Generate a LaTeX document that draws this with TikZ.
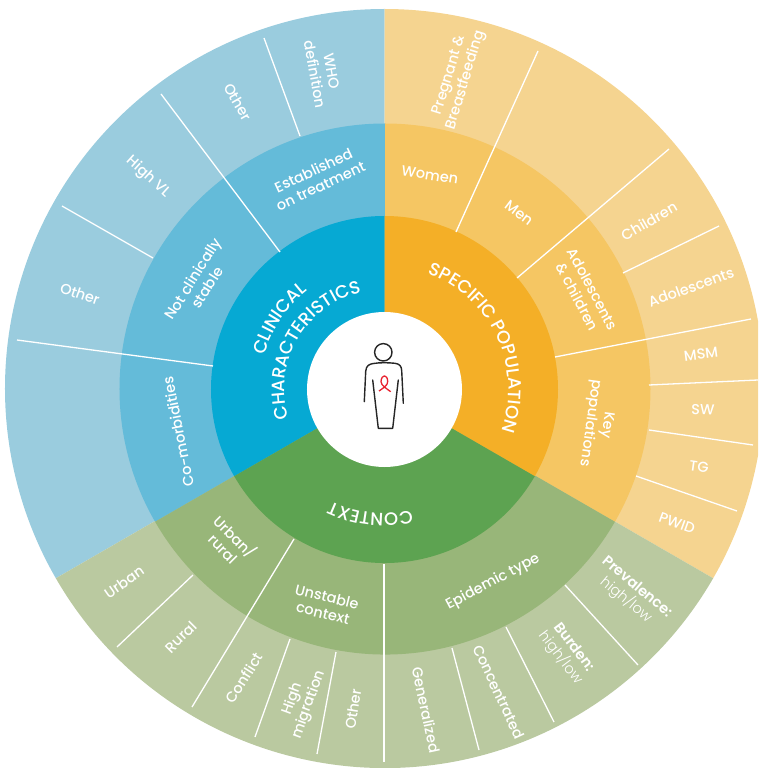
\documentclass[tikz,border=0pt]{standalone}
\usepackage{fontspec}
\setmainfont{Poppins Medium}
\newfontface\thinface{Poppins Light}
\newfontface\heavyface{Poppins SemiBold}
\usetikzlibrary{decorations.text}

\definecolor{blueinner}{HTML}{06A9D3}
\definecolor{bluemid}{HTML}{64BBD9}
\definecolor{blueouter}{HTML}{9ACCDE}
\definecolor{orangeinner}{HTML}{F4AF27}
\definecolor{orangemid}{HTML}{F5C663}
\definecolor{orangeouter}{HTML}{F5D490}
\definecolor{greeninner}{HTML}{5DA351}
\definecolor{greenmid}{HTML}{98B679}
\definecolor{greenouter}{HTML}{BAC9A0}
\definecolor{ribbon}{HTML}{E8212E}

\tikzset{
    lbl/.style={text=white, font=\fontsize{14.5}{17}\selectfont, align=center, inner sep=0pt},
    divider/.style={draw=white, line width=1.3pt},
    figure/.style={draw=black!85, line width=1.4pt, line join=round, line cap=round},
    curved/.style={decorate, decoration={text along path, text align=center, text color=white,
        text={|\fontsize{18}{20}\selectfont|#1}}}
}

\begin{document}
\begin{tikzpicture}[x=1pt, y=1pt]
\clip (-384.5,-378.5) rectangle (373.5,389.5);

% Rings
\foreach \r/\dx/\dy/\cb/\co/\cg in {379.5/0/1/blueouter/orangeouter/greenouter,
                            265.5/0.5/0.5/bluemid/orangemid/greenmid,
                            173.5/0/0/blueinner/orangeinner/greeninner} {
    \begin{scope}[shift={(\dx,\dy)}]
    \fill[\cb] (0,0) -- (90:\r) arc[start angle=90, end angle=210, radius=\r] -- cycle;
    \fill[\co] (0,0) -- (90:\r) arc[start angle=90, end angle=-30, radius=\r] -- cycle;
    \fill[\cg] (0,0) -- (210:\r) arc[start angle=210, end angle=330, radius=\r] -- cycle;
    \end{scope}
}
\fill[white] (0,0) circle (77.5);

% Dividers
\foreach \xa/\ya/\xb/\yb in {71.5/157.5/153.5/338.5, 132.5/111.5/284.5/240.5,
    238.5/116.5/334.5/163.5, 170.5/32.5/366.5/70.5, 264.5/4.5/373.5/9.5,
    264.5/-40.5/368.5/-55.5, 251.5/-86.5/352.5/-121.5,
    180.5/-195.5/253.5/-275.5, 121.5/-237.5/169.5/-332.5, 67.5/-258.5/94.5/-360.5,
    -0.5/-174.5/-0.5/-372.5, -48.5/-262.5/-67.5/-364.5, -94.5/-249.5/-129.5/-347.5,
    -90.5/-149.5/-192.5/-317.5, -191.5/-185.5/-267.5/-257.5,
    -171.5/23.5/-367.5/49.5, -231.5/131.5/-322.5/183.5,
    -104.5/137.5/-223.5/295.5, -84.5/253.5/-120.5/351.5} {
    \draw[divider] (\xa,\ya) -- (\xb,\yb);
}

% Centre titles
\path[curved={CHARACTERISTICS}] (195:100) arc[start angle=195, end angle=105, radius=100];
\path[curved={CLINICAL}] (170:125) arc[start angle=170, end angle=122, radius=125];
\path[curved={SPECIFIC POPULATION}] (75:124) arc[start angle=75, end angle=-25, radius=124];
\path[curved={CONTEXT}] (-70:124) arc[start angle=-70, end angle=-123, radius=124];

% Clinical characteristics
\node[lbl, rotate=-80] (whodef) at (-61.5,316.5) {WHO\\definition};
\node[lbl, rotate=-60] (othertop) at (-146.5,287.5) {Other};
\node[lbl, rotate=-42] (highvl) at (-236.5,212.5) {High VL};
\node[lbl, rotate=-19] (otherleft) at (-304.5,95.5) {Other};
\node[lbl, rotate=25] (established) at (-67.5,211.5) {Established\\on treatment};
\node[lbl, rotate=58] (notstable) at (-184.5,106.5) {Not clinically\\stable};
\node[lbl, rotate=101] (comorb) at (-206.5,-42.5) {Co-morbidities};

% Specific population
\node[lbl, rotate=73] (pregnant) at (73.5,311.5) {Pregnant \&\\Breastfeeding};
\node[lbl, rotate=-9] (women) at (45.5,214.5) {Women};
\node[lbl, rotate=-37] (men) at (134.5,176.5) {Men};
\node[lbl, rotate=30] (children) at (264.5,168.5) {Children};
\node[lbl, rotate=20] (adolescents) at (306.5,102.5) {Adolescents};
\node[lbl, rotate=-62] (adolchild) at (200.5,96.5) {Adolescents\\\& children};
\node[lbl, rotate=7] (msm) at (316.5,35.5) {MSM};
\node[lbl, rotate=-2] (sw) at (318.5,-20.5) {SW};
\node[lbl, rotate=-8] (tg) at (314.5,-77.5) {TG};
\node[lbl, rotate=-20] (pwid) at (292.5,-133.5) {PWID};
\node[lbl, rotate=-98] (keypop) at (213.5,-34.5) {Key\\populations};

% Context
\node[lbl, rotate=28] (epidemic) at (108.5,-192.5) {Epidemic type};
\node[lbl, rotate=-40] (prevalence) at (246.5,-204.5) {{\heavyface Prevalence:}\\{\thinface high/low}};
\node[lbl, rotate=-53] (burden) at (182.5,-263.5) {{\heavyface Burden:}\\{\thinface high/low}};
\node[lbl, rotate=-65] (concentrated) at (114.5,-302.5) {Concentrated};
\node[lbl, rotate=-78] (generalized) at (41.5,-320.5) {Generalized};
\node[lbl, rotate=35] (urban) at (-260.5,-192.5) {Urban};
\node[lbl, rotate=45] (rural) at (-203.5,-247.5) {Rural};
\node[lbl, rotate=58] (conflict) at (-140.5,-288.5) {Conflict};
\node[lbl, rotate=70] (highmig) at (-83.5,-312.5) {High\\migration};
\node[lbl, rotate=81] (otherbottom) at (-31.5,-319.5) {Other};
\node[lbl, rotate=-45] (urbanrural) at (-154.5,-152.5) {Urban/\\rural};
\node[lbl, rotate=-14] (unstable) at (-59.5,-215.5) {Unstable\\context};

% Person
\draw[figure] (-1.2,37.2) circle (8.7);
\draw[figure] (-20.2,-12.2) -- (-18.8,18) .. controls (-18.5,24) and (-15,25.5) .. (-11,26)
    .. controls (-5,27) and (3,27) .. (10.5,26.2) .. controls (15,25.5) and (17,23.5) .. (17.2,19) -- (18.8,-13.8);
\draw[figure] (-11.8,9.5) -- (-6.2,-38.8) -- (8.2,-38.8) -- (13.8,9.5);
\draw[ribbon, line width=1.3pt, line join=round] (-5.5,-1.5) .. controls (-2,1) and (3.5,4) .. (3.2,8)
    .. controls (3,15.5) and (-3,15.5) .. (-3.5,8) .. controls (-3.5,4) and (2,1) .. (6.2,-2.2);
\end{tikzpicture}
\end{document}
